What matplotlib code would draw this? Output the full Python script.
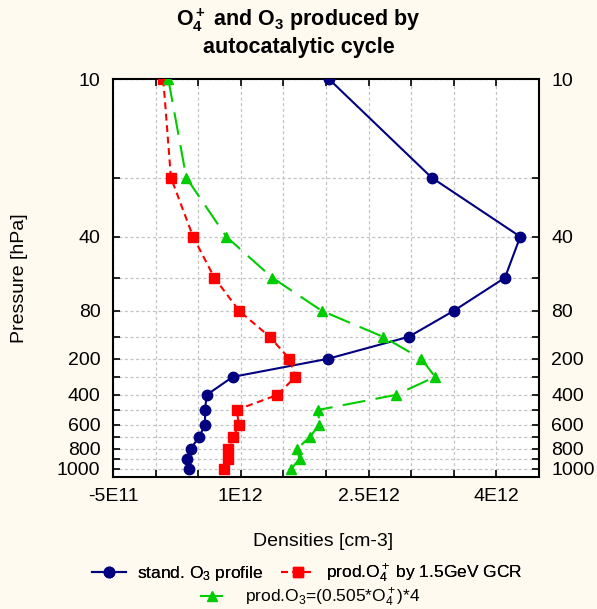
import numpy as np
import matplotlib
matplotlib.use('Agg')
import matplotlib.pyplot as plt

plt.rcParams['font.family'] = ['Liberation Sans', 'DejaVu Sans']
plt.rcParams['mathtext.fontset'] = 'custom'
plt.rcParams['mathtext.rm'] = 'Liberation Sans'
plt.rcParams['mathtext.it'] = 'Liberation Sans'
plt.rcParams['mathtext.bf'] = 'Liberation Sans:bold'

# pressure levels [hPa]
levels = [10, 20, 40, 60, 80, 100, 200, 300, 400, 500, 600, 700, 800, 900, 1000]
# vertical position of each level on the original chart's (non-uniform) axis
level_depth = [0, 98, 157, 198, 231, 257, 279, 297, 315, 330, 345, 357, 369, 379, 389]
ytick_labels = ['10', '', '40', '', '80', '', '200', '', '400', '', '600', '', '800', '', '1000']

# densities [cm-3]
o3_profile = [2.04e12, 3.24e12, 4.28e12, 4.10e12, 3.50e12, 2.97e12, 2.02e12, 0.905e12,
              0.60e12, 0.58e12, 0.58e12, 0.51e12, 0.41e12, 0.365e12, 0.39e12]
o4_prod = [0.09e12, 0.18e12, 0.44e12, 0.69e12, 0.98e12, 1.34e12, 1.57e12, 1.64e12,
           1.43e12, 0.95e12, 0.98e12, 0.91e12, 0.85e12, 0.85e12, 0.80e12]
o3_prod = [0.15e12, 0.36e12, 0.83e12, 1.37e12, 1.95e12, 2.67e12, 3.12e12, 3.28e12,
           2.82e12, 1.91e12, 1.92e12, 1.81e12, 1.66e12, 1.69e12, 1.59e12]

xticks = np.arange(-5e11, 4.5e12 + 1, 5e11)
xtick_labels = ['-5E11', '', '', '1E12', '', '', '2.5E12', '', '', '4E12', '']

lv = np.array(levels, float)
dp = np.array(level_depth, float)
s_lo = (dp[1] - dp[0]) / (lv[1] - lv[0])
s_hi = (dp[-1] - dp[-2]) / (lv[-1] - lv[-2])


def fwd(p):
    p = np.asarray(p, float)
    d = np.interp(p, lv, dp)
    d = np.where(p > lv[-1], dp[-1] + (p - lv[-1]) * s_hi, d)
    d = np.where(p < lv[0], dp[0] + (p - lv[0]) * s_lo, d)
    return d


def inv(d):
    d = np.asarray(d, float)
    p = np.interp(d, dp, lv)
    p = np.where(d > dp[-1], lv[-1] + (d - dp[-1]) / s_hi, p)
    p = np.where(d < dp[0], lv[0] + (d - dp[0]) / s_lo, p)
    return p


bg = '#fefaf0'
fig = plt.figure(figsize=(5.97, 6.09), dpi=100, facecolor=bg)
ax = fig.add_axes([113 / 597, 1 - 477 / 609, 426 / 597, 398 / 609])
ax.set_facecolor('white')
ax.set_yscale('function', functions=(fwd, inv))

blue = '#000080'
red = '#ff0000'
green = '#00cc00'

l1, = ax.plot(o3_profile, levels, '-o', color=blue, lw=1.5, ms=7.5, zorder=3)
l2, = ax.plot(o4_prod, levels, '--s', color=red, lw=1.5, ms=7.5, dashes=(3.3, 2.2), zorder=3)
l3, = ax.plot(o3_prod, levels, '-^', color=green, lw=1.5, ms=7.5, dashes=(11, 5), zorder=3)

ax.set_xlim(-5e11, 4.5e12)
ax.set_ylim(1080, 9.95)

ax.set_xticks(xticks)
ax.set_xticklabels(xtick_labels)
ax.set_yticks(levels)
ax.set_yticklabels(ytick_labels)
ax.minorticks_off()
ax.tick_params(axis='both', direction='in', length=5, width=1.2, labelsize=14,
               top=True, right=True, labelright=True)
ax.tick_params(axis='x', pad=8)
ax.tick_params(axis='y', pad=9)
ax.grid(True, color='#c4c4c4', ls=(0, (2.5, 2)), lw=0.9)
for s in ax.spines.values():
    s.set_linewidth(1.5)

fig.text(0.032, (609 - 278) / 609, 'Pressure [hPa]', rotation=90, ha='center', va='center', fontsize=14)
fig.text(323 / 597, (609 - 541) / 609, 'Densities [cm-3]', ha='center', va='center', fontsize=14)

fig.text(0.5, (609 - 20) / 609, r'$\mathbf{O_4^+}$ and $\mathbf{O_3}$ produced by',
         ha='center', va='center', fontsize=15.5, fontweight='bold')
fig.text(0.5, (609 - 48) / 609, 'autocatalytic cycle',
         ha='center', va='center', fontsize=15.5, fontweight='bold')

leg1 = fig.legend([l1, l2], ['stand. O$_3$ profile', r'prod.O$_4^+$ by 1.5GeV GCR'],
                  loc='center', bbox_to_anchor=(307 / 597, (609 - 574) / 609), ncol=2,
                  frameon=False, fontsize=12.5, handlelength=2.0, columnspacing=1.0,
                  handletextpad=0.6, borderpad=0)
leg2 = fig.legend([l3], [r'prod.O$_3$=(0.505*O$_4^+$)*4'],
                  loc='center', bbox_to_anchor=(310 / 597, (609 - 598) / 609),
                  frameon=False, fontsize=12.5, handlelength=1.4, handletextpad=1.2, borderpad=0)
fig.add_artist(leg1)

fig.savefig('out.png', dpi=100, facecolor=bg)
